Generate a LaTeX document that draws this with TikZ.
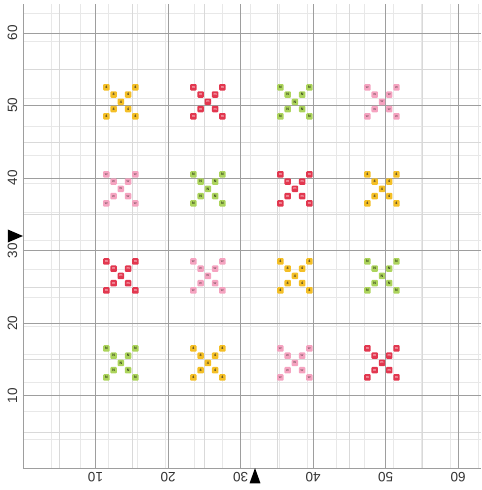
\documentclass[tikz,border=0pt]{standalone}
\usepackage{fontspec}
\setmainfont{Liberation Sans}
\usetikzlibrary{positioning}
\definecolor{ThrGold}{HTML}{F4BF26}
\definecolor{ThrRed}{HTML}{E2374F}
\definecolor{ThrGreen}{HTML}{ACD45C}
\definecolor{ThrPink}{HTML}{F5A3C0}
\tikzset{
  stitch/.style={minimum size=6.3pt,inner sep=0pt,rounded corners=0.8pt,
    font=\fontsize{3.6}{3.6}\selectfont\bfseries},
  gold/.style={stitch,fill=ThrGold,text=black!85},
  red/.style={stitch,fill=ThrRed,text=white!70!ThrRed},
  green/.style={stitch,fill=ThrGreen,text=black!75!ThrGreen},
  pink/.style={stitch,fill=ThrPink,text=ThrPink!55!black},
  axislbl/.style={font=\fontsize{13.5}{13.5}\selectfont,text=black!80,inner sep=0pt},
}

\begin{document}
\begin{tikzpicture}[x=7.25pt,y=7.25pt]
\useasboundingbox (-3.17,-3.03) rectangle (63.17,64.55);

% ================= the canvas =================
\draw[black!9,line width=.4pt] (0,0) grid (63.17,64);
\draw[black!15,line width=.4pt,step=5] (0,0) grid (63.17,64);
\draw[black!38,line width=.55pt,step=10] (0,0) grid (63.17,64);

% ================= axis numbers =================
\foreach \v in {10,20,...,60}{
  \node[axislbl,rotate=90] (yl\v) at (-1.45,\v) {\v};
  \node[axislbl,rotate=180] (xl\v) at (\v,-1.3) {\v};}

% centre marks
\fill[black] (0,32) -- (-2.1,32.9) -- (-2.1,31.1) -- cycle;
\fill[black] (32,0) -- (31.25,-2.1) -- (32.75,-2.1) -- cycle;

% ================= the crosses =================
\foreach \nm/\cx/\cy/\thr/\sym in {
    a/13/50/gold/4, b/25/50/red/m, c/37/50/green/N, d/49/50/pink/w,
    e/13/38/pink/w, f/25/38/green/N, g/37/38/red/m, h/49/38/gold/4,
    i/13/26/red/m, j/25/26/pink/w, k/37/26/gold/4, l/49/26/green/N,
    m/13/14/green/N, n/25/14/gold/4, o/37/14/pink/w, p/49/14/red/m}{
  \foreach \dx/\dy [count=\k] in {0/0,1/1,2/2,-1/1,-2/2,1/-1,2/-2,-1/-1,-2/-2}
    \node[\thr] (\nm\k) at ({\cx+\dx+0.5},{\cy+\dy+0.5}) {\sym};}
\end{tikzpicture}
\end{document}
